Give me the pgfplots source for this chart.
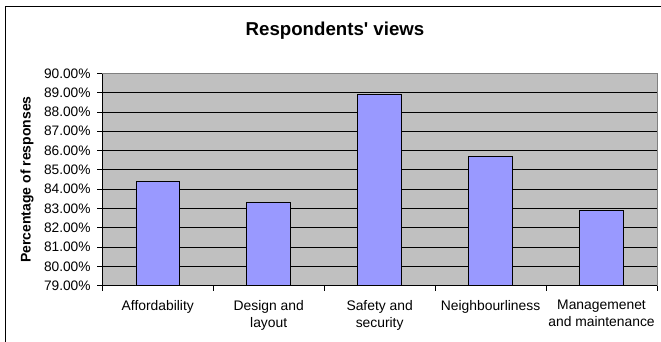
\documentclass[border=0pt]{standalone}
\usepackage{pgfplots}
\pgfplotsset{compat=1.18}
\usepackage{fontspec}
\setmainfont{Liberation Sans}
\definecolor{plotbg}{HTML}{C0C0C0}
\definecolor{barfill}{HTML}{9999FF}
\begin{document}
\begin{tikzpicture}
\path[use as bounding box] (0,0) rectangle (495.75pt,256.5pt);
\begin{axis}[
  at={(76.725pt,42.225pt)}, anchor=south west,
  scale only axis, width=416.025pt, height=159.3pt,
  ybar, bar width=32.8pt,
  xmin=-0.5, xmax=4.5, ymin=79, ymax=90,
  axis x line*=bottom, axis y line*=left,
  axis line style={-, black, line width=0.6pt},
  axis background/.style={fill=plotbg},
  ytick={79,80,...,90},
  yticklabels={79.00\%,80.00\%,81.00\%,82.00\%,83.00\%,84.00\%,85.00\%,86.00\%,87.00\%,88.00\%,89.00\%,90.00\%},
  ymajorgrids, major grid style={black, line width=0.6pt},
  xtick={-0.5,0.5,1.5,2.5,3.5,4.5},
  xticklabels={},
  yticklabel style={font=\fontsize{10.3pt}{12pt}\selectfont, xshift=-1.5pt},
  tick style={black, line width=0.6pt},
  tick align=outside, major tick length=3.75pt,
  extra x ticks={0,1,2,3,4},
  extra x tick labels={Affordability,{Design and\\layout},{Safety and\\security},Neighbourliness,{Managemenet\\and maintenance}},
  extra x tick style={grid=none, major tick length=0pt,
    xticklabel style={align=center, yshift=-7.5pt, font=\fontsize{10.4pt}{12.75pt}\selectfont}},
  clip=false,
]
\addplot[fill=barfill, draw=black, line width=0.6pt] coordinates {(0,84.41) (1,83.32) (2,88.91) (3,85.68) (4,82.90)};
\draw[gray, line width=0.6pt] (rel axis cs:0,1) -- (rel axis cs:1,1) -- (rel axis cs:1,0);
\end{axis}
\begin{scope}[x=0.75pt,y=0.75pt]
\draw[black, line width=0.75pt] (5,0) -- (5,335) -- (661,335);
\node[font=\bfseries\fontsize{14pt}{16pt}\selectfont] at (335,311.3) {Respondents\textquotesingle\ views};
\node[font=\bfseries\fontsize{10.5pt}{12pt}\selectfont, rotate=90] at (27,162.5) {Percentage of responses};
\end{scope}
\end{tikzpicture}
\end{document}
